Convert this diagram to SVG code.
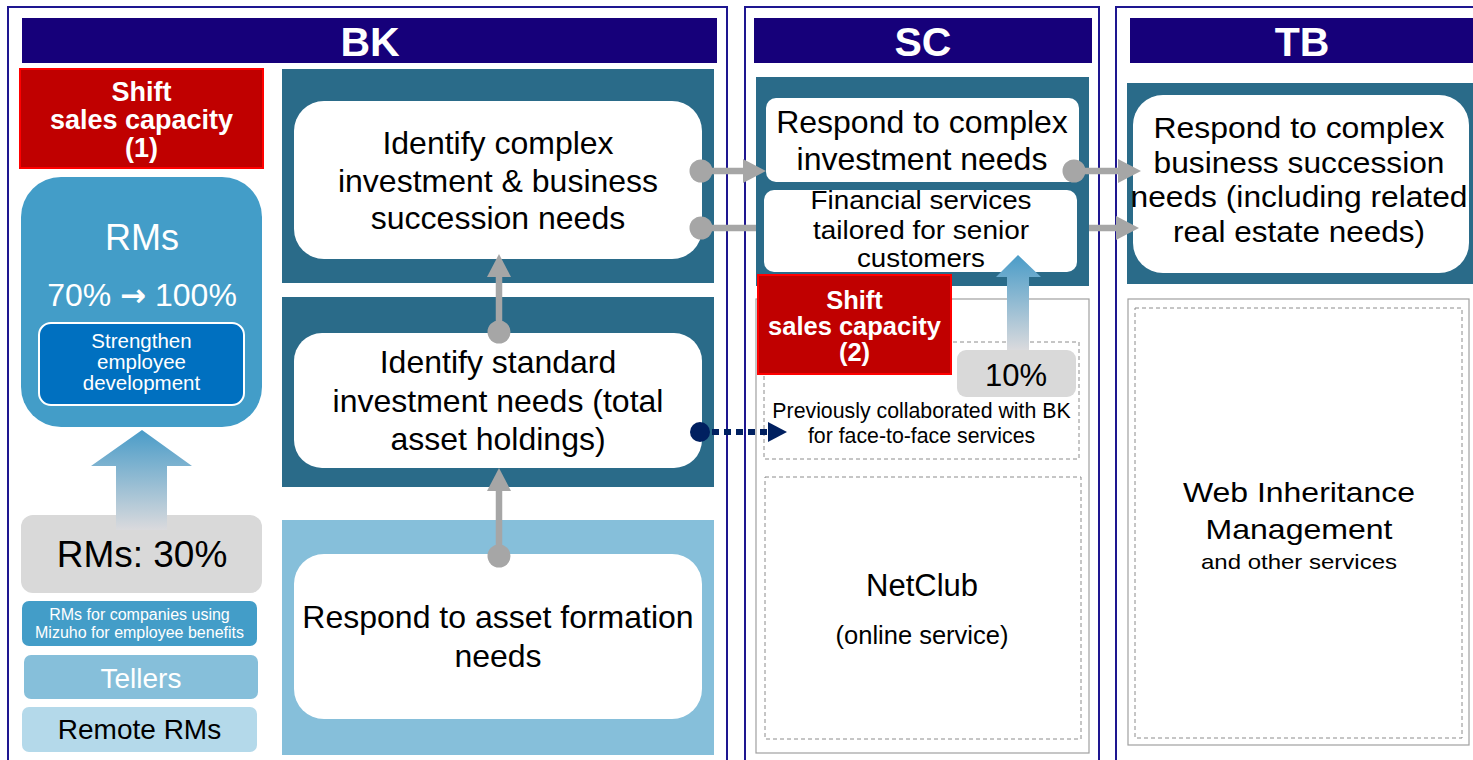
<svg xmlns="http://www.w3.org/2000/svg" width="1473" height="760" viewBox="0 0 1473 760">
  <style>
    text { font-family: "Liberation Sans", Arial, sans-serif; text-anchor: middle; }
    .panel { fill: none; stroke: #1e1690; stroke-width: 2; }
    .hdr { fill: #16007a; }
    .hdrt { font-size: 41px; font-weight: bold; fill: #fff; }
    .teal { fill: #2a6b89; }
    .lblue { fill: #86bfda; }
    .card { fill: #fff; }
    .red { fill: #c00000; stroke: #ff0000; stroke-width: 2; }
    .redt { font-weight: bold; fill: #fff; }
    .gbox { fill: none; stroke: #a0a0a0; stroke-width: 1.2; }
    .dbox { fill: none; stroke: #8c8c8c; stroke-width: 1; stroke-dasharray: 4 3; }
    .blk { fill: #000; }
    .wht { fill: #fff; }
    .conn { fill: none; stroke: #a6a6a6; stroke-width: 6.5; }
    .navy { fill: none; stroke: #002060; stroke-width: 6; stroke-dasharray: 7 5; }
  </style>
  <defs>
    <linearGradient id="upfade" x1="0" y1="0" x2="0" y2="1">
      <stop offset="0" stop-color="#4a9cc8"/>
      <stop offset="1" stop-color="#dadadd"/>
    </linearGradient>
    <marker id="dot" markerUnits="userSpaceOnUse" viewBox="0 0 24 24" markerWidth="24" markerHeight="24" refX="12" refY="12">
      <circle cx="12" cy="12" r="11.5" fill="#a6a6a6"/>
    </marker>
    <marker id="head" markerUnits="userSpaceOnUse" viewBox="0 0 23 24" markerWidth="23" markerHeight="24" refX="0" refY="12" orient="auto">
      <path d="M0,0 L23,12 L0,24 Z" fill="#a6a6a6"/>
    </marker>
    <marker id="ndot" markerUnits="userSpaceOnUse" viewBox="0 0 22 22" markerWidth="22" markerHeight="22" refX="11" refY="11">
      <circle cx="11" cy="11" r="10" fill="#002060"/>
    </marker>
    <marker id="nhead" markerUnits="userSpaceOnUse" viewBox="0 0 19 20" markerWidth="19" markerHeight="20" refX="0" refY="10" orient="auto">
      <path d="M0,0 L19,10 L0,20 Z" fill="#002060"/>
    </marker>
  </defs>

  <!-- company panels and title bars -->
  <g id="panel-bk">
    <rect class="panel" x="8" y="7" width="719" height="770"/>
    <rect class="hdr" x="22" y="18" width="695" height="45"/>
    <text class="hdrt" x="370" y="56">BK</text>
  </g>
  <g id="panel-sc">
    <rect class="panel" x="745" y="7" width="354" height="770"/>
    <rect class="hdr" x="754" y="18" width="338" height="45"/>
    <text class="hdrt" x="923" y="56">SC</text>
  </g>
  <g id="panel-tb">
    <rect class="panel" x="1116" y="7" width="370" height="770"/>
    <rect class="hdr" x="1130" y="18" width="350" height="45"/>
    <text class="hdrt" x="1302" y="56">TB</text>
  </g>

  <!-- BK staff column -->
  <g id="shift-1">
    <rect class="red" x="20" y="69" width="243" height="99"/>
    <text class="redt" font-size="27" x="141.5" y="101">Shift<tspan x="141.5" dy="28">sales capacity</tspan><tspan x="141.5" dy="28">(1)</tspan></text>
  </g>
  <g id="rms">
    <rect x="21" y="177" width="241" height="250" rx="40" fill="#439dc8"/>
    <text class="wht" font-size="36" x="142" y="250">RMs</text>
    <text class="wht" font-size="32" x="142" y="306">70% <tspan font-family="DejaVu Sans" font-weight="bold" font-size="31">→</tspan> 100%</text>
  </g>
  <g id="strengthen">
    <rect x="39" y="323" width="205" height="82" rx="12" fill="#0070c0" stroke="#fff" stroke-width="2"/>
    <text class="wht" font-size="20.5" x="141.5" y="348">Strengthen<tspan x="141.5" dy="21">employee</tspan><tspan x="141.5" dy="21">development</tspan></text>
  </g>
  <g id="rms-30">
    <rect x="21" y="515" width="241" height="78" rx="12" fill="#d9d9d9"/>
    <text class="blk" font-size="37" x="142" y="567">RMs: 30%</text>
  </g>
  <g id="shift-up-1">
    <path d="M142,430 L192,466 L167,466 L167,530 L116,530 L116,466 L91,466 Z" fill="url(#upfade)"/>
  </g>
  <g id="rms-benefits">
    <rect x="22" y="601" width="235" height="45" rx="7" fill="#439dc8"/>
    <text class="wht" font-size="16" x="139.5" y="620">RMs for companies using</text>
    <text class="wht" font-size="16" x="139.5" y="638">Mizuho for employee benefits</text>
  </g>
  <g id="tellers">
    <rect x="24" y="655" width="234" height="44" rx="7" fill="#86bfda"/>
    <text class="wht" font-size="28" x="141" y="688">Tellers</text>
  </g>
  <g id="remote-rms">
    <rect x="22" y="707" width="235" height="45" rx="7" fill="#b4d9ea"/>
    <text class="blk" font-size="28" x="139.5" y="739">Remote RMs</text>
  </g>

  <!-- BK needs tiers -->
  <g id="bk-complex">
    <rect class="teal" x="282" y="69" width="432" height="214"/>
    <rect class="card" x="294" y="101" width="408" height="158" rx="30"/>
    <text class="blk" font-size="32" x="498" y="154">Identify complex</text>
    <text class="blk" font-size="32" x="498" y="192">investment &amp; business</text>
    <text class="blk" font-size="32" x="498" y="229">succession needs</text>
  </g>
  <g id="bk-standard">
    <rect class="teal" x="282" y="297" width="432" height="190"/>
    <rect class="card" x="294" y="333" width="408" height="135" rx="28"/>
    <text class="blk" font-size="32" x="498" y="373">Identify standard</text>
    <text class="blk" font-size="32" x="498" y="412">investment needs (total</text>
    <text class="blk" font-size="32" x="498" y="450">asset holdings)</text>
  </g>
  <g id="bk-formation">
    <rect class="lblue" x="282" y="520" width="432" height="235"/>
    <rect class="card" x="294" y="554" width="408" height="165" rx="30"/>
    <text class="blk" font-size="32" x="498" y="628">Respond to asset formation</text>
    <text class="blk" font-size="32" x="498" y="667">needs</text>
  </g>

  <!-- SC column -->
  <g id="sc-needs">
    <rect class="teal" x="756" y="77" width="333" height="209"/>
    <rect class="card" x="766" y="98" width="313" height="84" rx="10"/>
    <text class="blk" font-size="32" x="922" y="133">Respond to complex</text>
    <text class="blk" font-size="32" x="922" y="170">investment needs</text>
    <rect class="card" x="764" y="190" width="313" height="82" rx="10"/>
    <text class="blk" font-size="25.5" x="921" y="209" textLength="221" lengthAdjust="spacingAndGlyphs">Financial services</text>
    <text class="blk" font-size="25.5" x="921" y="239" textLength="216" lengthAdjust="spacingAndGlyphs">tailored for senior</text>
    <text class="blk" font-size="25.5" x="921" y="267" textLength="128" lengthAdjust="spacingAndGlyphs">customers</text>
  </g>
  <g id="sc-channels">
    <rect class="gbox" x="756" y="299" width="333" height="454"/>
  </g>
  <g id="sc-collab">
    <rect class="dbox" x="764" y="342" width="315" height="117"/>
    <text class="blk" font-size="21.3" x="921.5" y="418">Previously collaborated with BK</text>
    <text class="blk" font-size="21.3" x="921.5" y="443">for face-to-face services</text>
  </g>
  <g id="netclub">
    <rect class="dbox" x="765" y="477" width="316" height="262"/>
    <text class="blk" font-size="31" x="922" y="596">NetClub</text>
    <text class="blk" font-size="25.5" x="922" y="644">(online service)</text>
  </g>
  <g id="shift-2">
    <rect class="red" x="758" y="275" width="193" height="99"/>
    <text class="redt" font-size="25.5" x="854.5" y="309">Shift<tspan x="854.5" dy="26">sales capacity</tspan><tspan x="854.5" dy="26">(2)</tspan></text>
  </g>
  <g id="shift-up-2">
    <path d="M1018,255 L1041,277 L1029,277 L1029,350 L1007,350 L1007,277 L996,277 Z" fill="url(#upfade)"/>
  </g>
  <g id="share-10">
    <rect x="957" y="350" width="119" height="47" rx="9" fill="#d9d9d9"/>
    <text class="blk" font-size="31" x="1016" y="386">10%</text>
  </g>

  <!-- TB column -->
  <g id="tb-succession">
    <rect class="teal" x="1127" y="83" width="350" height="201"/>
    <rect class="card" x="1133" y="95" width="336" height="178" rx="30"/>
    <text class="blk" font-size="29.5" x="1299" y="138" textLength="291" lengthAdjust="spacingAndGlyphs">Respond to complex</text>
    <text class="blk" font-size="29.5" x="1299" y="173" textLength="291" lengthAdjust="spacingAndGlyphs">business succession</text>
    <text class="blk" font-size="29.5" x="1299" y="207" textLength="337" lengthAdjust="spacingAndGlyphs">needs (including related</text>
    <text class="blk" font-size="29.5" x="1299" y="242" textLength="252" lengthAdjust="spacingAndGlyphs">real estate needs)</text>
  </g>
  <g id="tb-web">
    <rect class="gbox" x="1128" y="299" width="341" height="446"/>
    <rect class="dbox" x="1135" y="308" width="327" height="430"/>
    <text class="blk" font-size="28.5" x="1299" y="502" textLength="232" lengthAdjust="spacingAndGlyphs">Web Inheritance</text>
    <text class="blk" font-size="28.5" x="1299" y="539" textLength="187" lengthAdjust="spacingAndGlyphs">Management</text>
    <text class="blk" font-size="21" x="1299" y="569" textLength="196" lengthAdjust="spacingAndGlyphs">and other services</text>
  </g>

  <!-- connectors -->
  <g id="connectors">
    <path class="conn" d="M499,332 V277" marker-start="url(#dot)" marker-end="url(#head)"/>
    <path class="conn" d="M499,556 V491" marker-start="url(#dot)" marker-end="url(#head)"/>
    <path class="conn" d="M701,171 H743" marker-start="url(#dot)" marker-end="url(#head)"/>
    <path class="conn" d="M701,228 H756" marker-start="url(#dot)"/>
    <path class="conn" d="M1074,171 H1118" marker-start="url(#dot)" marker-end="url(#head)"/>
    <path class="conn" d="M1089,228 H1116" marker-end="url(#head)"/>
    <path class="navy" d="M700,432 H768" marker-start="url(#ndot)" marker-end="url(#nhead)"/>
  </g>
</svg>
